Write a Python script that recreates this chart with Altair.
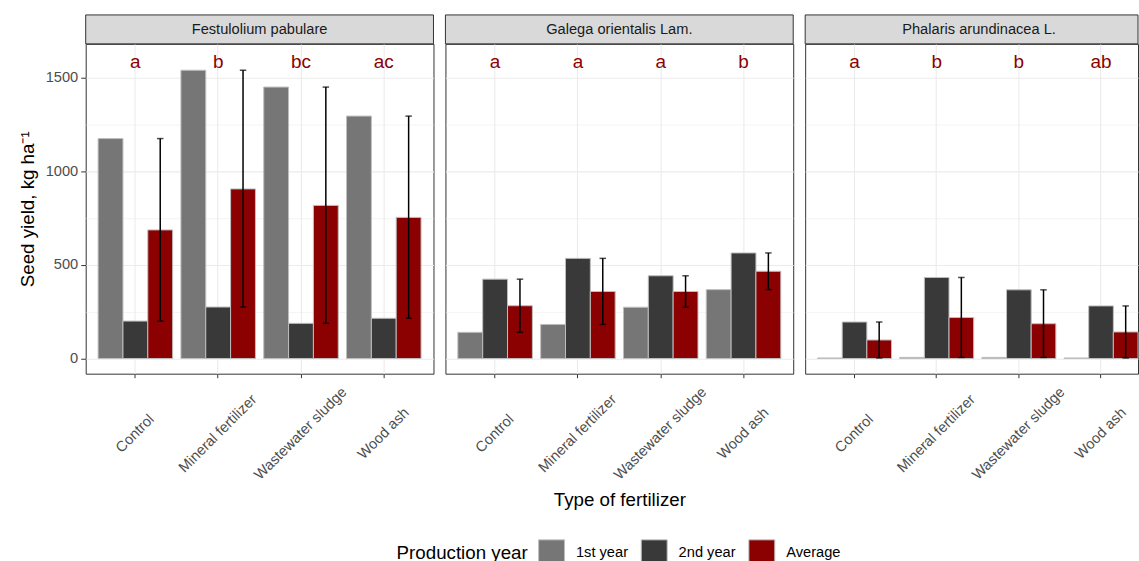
import altair as alt
import pandas as pd

# Categories
species = ["Festulolium pabulare", "Galega orientalis Lam.", "Phalaris arundinacea L."]
fertilizers = ["Control", "Mineral fertilizer", "Wastewater sludge", "Wood ash"]
years = ["1st year", "2nd year", "Average"]

# Seed yield (kg/ha) per fertilizer, in the order of `fertilizers`
festulolium_1st = [1175, 1540, 1450, 1295]
festulolium_2nd = [200, 275, 188, 215]
festulolium_avg = [687, 906, 818, 754]

galega_1st = [140, 182, 274, 368]
galega_2nd = [424, 535, 442, 564]
galega_avg = [282, 358, 358, 466]

phalaris_1st = [3, 6, 6, 3]
phalaris_2nd = [195, 433, 367, 281]
phalaris_avg = [99, 219, 186, 142]

# Significance letters above each fertilizer group
festulolium_letters = ["a", "b", "bc", "ac"]
galega_letters = ["a", "a", "a", "b"]
phalaris_letters = ["a", "b", "b", "ab"]

series = {
    "Festulolium pabulare": (festulolium_1st, festulolium_2nd, festulolium_avg, festulolium_letters),
    "Galega orientalis Lam.": (galega_1st, galega_2nd, galega_avg, galega_letters),
    "Phalaris arundinacea L.": (phalaris_1st, phalaris_2nd, phalaris_avg, phalaris_letters),
}

rows = []
for sp in species:
    y1, y2, avg, letters = series[sp]
    for i, f in enumerate(fertilizers):
        lo, hi = min(y1[i], y2[i]), max(y1[i], y2[i])
        for yr, v in zip(years, (y1[i], y2[i], avg[i])):
            rows.append(dict(species=sp, fert=f, year=yr, value=v, lo=lo, hi=hi, letter=letters[i]))
df = pd.DataFrame(rows)

FONT = "Liberation Sans"
PANEL_W, PANEL_H = 349, 331
LAST_W = 334          # the right-hand panel runs to the page edge
STRIP_H = 29
LABEL_COLOR = "#4D4D4D"
TITLE_SIZE = 18.8

major = "datum.value % 500 === 0"
y_scale = alt.Scale(domain=[-81, 1681], nice=False, zero=False)
color_scale = alt.Scale(domain=years, range=["#767676", "#393939", "#8B0000"])

legend = alt.Legend(
    title="Production year",
    orient="none",
    legendX=312,
    legendY=497,
    direction="horizontal",
    titleOrient="left",
    titleAnchor="middle",
    symbolType="square",
    symbolSize=676,
    symbolStrokeColor="#BEBEBE",
    symbolStrokeWidth=1,
    symbolOpacity=1,
    labelFontSize=14.7,
    labelFont=FONT,
    labelColor="black",
    titleFontSize=TITLE_SIZE,
    titleFont=FONT,
    titleColor="black",
    titleFontWeight="normal",
    titlePadding=10,
    labelOffset=11,
    columnPadding=10,
)


def make_panel(sp, view_w, first, x_title):
    data = df[df["species"] == sp]

    if view_w == PANEL_W:
        x_scale = alt.Scale(paddingInner=0.1, paddingOuter=0.15)
    else:
        # narrower panel: keep the same band step and left offset, no right margin
        x_scale = alt.Scale(paddingInner=0.1, paddingOuter=0.0753, align=1)
    x_axis = alt.Axis(
        title=x_title,
        titlePadding=9,
        labelAngle=315,
        labelAlign="center",
        labelBaseline="middle",
        labelPadding=56,
        labelOverlap=False,
        tickSize=4,
        bandPosition=0.5,
        grid=True,
        gridColor="#EBEBEB",
        gridWidth=1.1,
        domain=False,
    )
    x_enc = alt.X("fert:N", sort=fertilizers, scale=x_scale, axis=x_axis)
    x_plain = alt.X("fert:N", sort=fertilizers)
    xoff = alt.XOffset("year:N", sort=years,
                       scale=alt.Scale(domain=years, paddingInner=0, paddingOuter=0))

    if first:
        y_axis = alt.Axis(
            title="Seed yield, kg  ha\u207b\u00b9",
            values=[0, 250, 500, 750, 1000, 1250, 1500],
            format="d",
            labelExpr=f"{major} ? datum.label : ''",
            gridColor="#EBEBEB",
            gridWidth={"condition": {"test": major, "value": 1.1}, "value": 0.6},
            tickColor={"condition": {"test": major, "value": "#333333"}, "value": "transparent"},
            tickSize=5,
            labelPadding=3,
            titlePadding=8,
            domain=False,
        )
    else:
        y_axis = alt.Axis(
            title=None,
            values=[0, 250, 500, 750, 1000, 1250, 1500],
            labels=False,
            ticks=False,
            domain=False,
            gridColor="#EBEBEB",
            gridWidth={"condition": {"test": major, "value": 1.1}, "value": 0.6},
            minExtent=0,
            maxExtent=0,
        )

    bars = alt.Chart(data).mark_bar(stroke="#BEBEBE", strokeWidth=1).encode(
        x=x_enc,
        xOffset=xoff,
        y=alt.Y("value:Q", scale=y_scale, axis=y_axis),
        color=alt.Color("year:N", sort=years, scale=color_scale, legend=legend),
    )

    avg = alt.Chart(data).transform_filter(alt.datum.year == "Average")
    rules = avg.mark_rule(color="black", strokeWidth=1.5).encode(
        x=x_plain, xOffset=alt.XOffset("year:N", sort=years), y="lo:Q", y2="hi:Q"
    )
    cap_lo = avg.mark_tick(color="black", size=6.5, thickness=1.5).encode(
        x=x_plain, xOffset=alt.XOffset("year:N", sort=years), y="lo:Q"
    )
    cap_hi = avg.mark_tick(color="black", size=6.5, thickness=1.5).encode(
        x=x_plain, xOffset=alt.XOffset("year:N", sort=years), y="hi:Q"
    )
    letters_layer = avg.mark_text(
        color="#8B0000", fontSize=19, font=FONT, baseline="middle", align="center"
    ).encode(x=x_plain, y=alt.datum(1585), text="letter:N")

    strip = avg.transform_filter(alt.datum.fert == "Control")
    strip_rect = strip.mark_rect(fill="#D9D9D9", stroke="#333333", strokeWidth=1).encode(
        x=alt.value(0), x2=alt.value(view_w), y=alt.value(-STRIP_H), y2=alt.value(0)
    )
    strip_text = strip.mark_text(
        fontSize=14.7, font=FONT, color="#1A1A1A", align="center", baseline="middle"
    ).encode(x=alt.value(PANEL_W / 2), y=alt.value(-STRIP_H / 2 + 0.5), text="species:N")

    return alt.layer(
        bars, rules, cap_lo, cap_hi, letters_layer, strip_rect, strip_text
    ).properties(width=view_w, height=PANEL_H)


p1 = make_panel(species[0], PANEL_W, True, None)
p2 = make_panel(species[1], PANEL_W, False, "Type of fertilizer")
p3 = make_panel(species[2], LAST_W, False, None)

chart = alt.hconcat(p1, p2, p3, spacing=10).resolve_scale(
    x="independent", xOffset="independent"
).properties(
    padding={"left": 17, "top": 13, "right": 0, "bottom": 0}
).configure_view(
    stroke="#333333", strokeWidth=1
).configure_axis(
    labelFont=FONT,
    labelFontSize=14.7,
    labelColor=LABEL_COLOR,
    tickColor="#333333",
    titleFont=FONT,
    titleFontSize=TITLE_SIZE,
    titleColor="black",
    titleFontWeight="normal",
)

chart.save("out.html", embed_options={"renderer": "svg", "actions": False})
